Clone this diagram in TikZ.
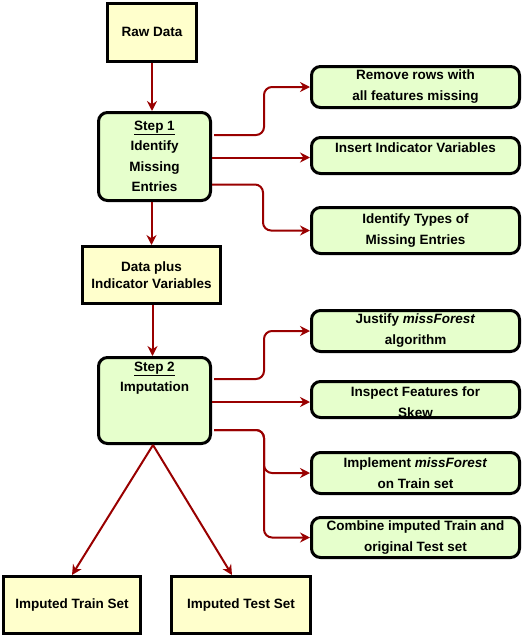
\documentclass[tikz,border=0pt]{standalone}
\usepackage{fontspec}
\setmainfont{Liberation Sans}
\usetikzlibrary{arrows.meta}
\definecolor{ylw}{HTML}{FFFFCC}
\definecolor{grn}{HTML}{E6FFCC}
\definecolor{arr}{HTML}{990000}
\tikzset{
 ybox/.style={draw=black, line width=3pt, fill=ylw, align=center, inner sep=0pt,
   font=\bfseries\fontsize{13.5}{17}\selectfont},
 gbox/.style={draw=black, line width=3pt, fill=grn, rounded corners=9pt, align=center, inner sep=0pt,
   minimum width=208pt, font=\bfseries\fontsize{13.5}{21}\selectfont},
 txt/.style={align=center, inner sep=0pt, font=\bfseries\fontsize{13.5}{20.5}\selectfont},
 con/.style={draw=arr, line width=2pt, -{Stealth[length=10pt,width=10pt]}, rounded corners=8pt}
}
\begin{document}
\begin{tikzpicture}[x=1pt,y=-1pt]
\useasboundingbox (0,0) rectangle (522,637);
% left column
\node[ybox, minimum width=89pt, minimum height=58pt] (raw) at (152,32) {Raw Data};
\node[gbox, minimum width=112pt, minimum height=88pt, font=\bfseries\fontsize{13.5}{20.5}\selectfont] (s1) at (154.5,156.5)
  {\underline{Step 1}\\Identify\\Missing\\Entries};
\node[ybox, minimum width=138pt, minimum height=57pt] (dp) at (151.5,275) {Data plus\\Indicator Variables};
\node[gbox, minimum width=112pt, minimum height=86pt] (s2) at (154.5,400.5) {};
\node[txt, font=\bfseries\fontsize{13.5}{20}\selectfont] (s2t) at (154.5,378) {\underline{Step 2}\\Imputation};
% right column
\node[gbox, minimum height=41pt] (r1) at (415.5,87) {Remove rows with\\all features missing};
\node[gbox, minimum height=36pt] (r2) at (415.5,155.5) {};
\node[txt] (r2t) at (415.5,148) {Insert Indicator Variables};
\node[gbox, minimum height=46pt] (r3) at (415.5,230.5) {Identify Types of\\Missing Entries};
\node[gbox, minimum height=41pt] (r4) at (415.5,331) {Justify \textit{missForest}\\algorithm};
\node[gbox, minimum height=36pt] (r5) at (415.5,399.5) {};
\node[txt, font=\bfseries\fontsize{13.5}{21}\selectfont] (r5t) at (415.5,402) {Inspect Features for\\Skew};
\node[gbox, minimum height=41pt] (r6) at (415.5,473) {Implement \textit{missForest}\\on Train set};
\node[gbox, minimum height=40pt] (r7) at (415.5,537.5) {Combine imputed Train and\\original Test set};
% bottom
\node[ybox, minimum width=137pt, minimum height=57pt] (tr) at (72,605) {Imputed Train Set};
\node[ybox, minimum width=139pt, minimum height=57pt] (te) at (241,605) {Imputed Test Set};
% connectors
\draw[con] (raw.south) -- (raw.south |- s1.north);
\draw[con] ([xshift=-3pt]s1.south) -- ([xshift=-3pt]s1.south |- dp.north);
\draw[con] ([xshift=1pt]dp.south) -- ([xshift=1pt]dp.south |- s2.north);
\draw[con] ([xshift=2pt,yshift=21.5pt]s1.east) -- ++(50,0) |- (r1.west);
\draw[con] ([yshift=-1pt]s1.east) -- ([yshift=-1pt]s1.east -| r2.west);
\draw[con] ([yshift=-28pt]s1.east) -- ++(51,0) |- (r3.west);
\draw[con] ([xshift=2pt,yshift=21.5pt]s2.east) -- ++(50,0) |- (r4.west);
\draw[con] ([yshift=-1.5pt]s2.east) -- ([yshift=-1.5pt]s2.east -| r5.west);
\draw[con] ([xshift=2pt,yshift=-29.5pt]s2.east) -- ++(50,0) |- (r6.west);
\draw[con] ([xshift=2pt,yshift=-29.5pt]s2.east) -- ++(50,0) |- (r7.west);
\draw[con] ([xshift=-1.5pt]s2.south) -- (tr.north);
\draw[con] ([xshift=-1.5pt]s2.south) -- ([xshift=-9pt]te.north);
\end{tikzpicture}
\end{document}
